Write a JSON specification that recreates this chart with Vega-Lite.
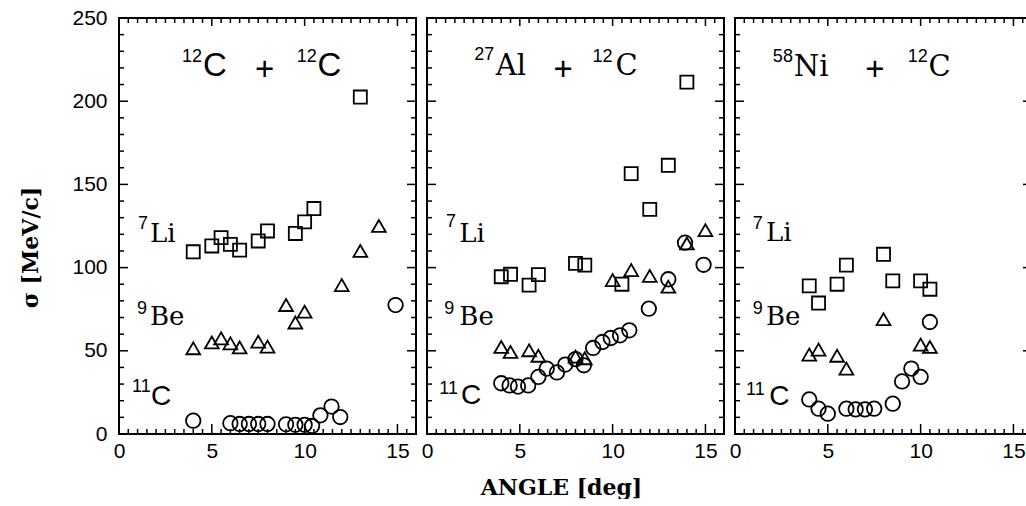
{
  "$schema": "https://vega.github.io/schema/vega-lite/v6.json",
  "background": "white",
  "padding": {"left": 18, "top": 6, "right": 0, "bottom": 0},
  "bounds": "flush",
  "spacing": 11,
  "config": {"view": {"stroke": "black", "strokeWidth": 2}},
  "datasets": {
    "pts": [
      {"panel": "C", "frag": "Li", "angle": 4, "sigma": 109.5},
      {"panel": "C", "frag": "Li", "angle": 5, "sigma": 113},
      {"panel": "C", "frag": "Li", "angle": 5.5, "sigma": 118},
      {"panel": "C", "frag": "Li", "angle": 6, "sigma": 114},
      {"panel": "C", "frag": "Li", "angle": 6.5, "sigma": 110.5},
      {"panel": "C", "frag": "Li", "angle": 7.5, "sigma": 116},
      {"panel": "C", "frag": "Li", "angle": 8, "sigma": 122},
      {"panel": "C", "frag": "Li", "angle": 9.5, "sigma": 120.5},
      {"panel": "C", "frag": "Li", "angle": 10, "sigma": 127.5},
      {"panel": "C", "frag": "Li", "angle": 10.5, "sigma": 135.5},
      {"panel": "C", "frag": "Li", "angle": 13, "sigma": 202.5},
      {"panel": "C", "frag": "Be", "angle": 4, "sigma": 51.5},
      {"panel": "C", "frag": "Be", "angle": 5, "sigma": 55},
      {"panel": "C", "frag": "Be", "angle": 5.5, "sigma": 57.5},
      {"panel": "C", "frag": "Be", "angle": 6, "sigma": 54.5},
      {"panel": "C", "frag": "Be", "angle": 6.5, "sigma": 52},
      {"panel": "C", "frag": "Be", "angle": 7.5, "sigma": 55.5},
      {"panel": "C", "frag": "Be", "angle": 8, "sigma": 52.5},
      {"panel": "C", "frag": "Be", "angle": 9, "sigma": 77.5},
      {"panel": "C", "frag": "Be", "angle": 9.5, "sigma": 67},
      {"panel": "C", "frag": "Be", "angle": 10, "sigma": 73.5},
      {"panel": "C", "frag": "Be", "angle": 12, "sigma": 89.5},
      {"panel": "C", "frag": "Be", "angle": 13, "sigma": 110},
      {"panel": "C", "frag": "Be", "angle": 14, "sigma": 125},
      {"panel": "C", "frag": "C", "angle": 4, "sigma": 8},
      {"panel": "C", "frag": "C", "angle": 6, "sigma": 6.5},
      {"panel": "C", "frag": "C", "angle": 6.5, "sigma": 6},
      {"panel": "C", "frag": "C", "angle": 7, "sigma": 6},
      {"panel": "C", "frag": "C", "angle": 7.5, "sigma": 6},
      {"panel": "C", "frag": "C", "angle": 8, "sigma": 6},
      {"panel": "C", "frag": "C", "angle": 9, "sigma": 5.8},
      {"panel": "C", "frag": "C", "angle": 9.5, "sigma": 5.5},
      {"panel": "C", "frag": "C", "angle": 10, "sigma": 5.5},
      {"panel": "C", "frag": "C", "angle": 10.4, "sigma": 4.8},
      {"panel": "C", "frag": "C", "angle": 10.85, "sigma": 11.2},
      {"panel": "C", "frag": "C", "angle": 11.45, "sigma": 16.5},
      {"panel": "C", "frag": "C", "angle": 11.92, "sigma": 10.2},
      {"panel": "C", "frag": "C", "angle": 14.9, "sigma": 77.5},
      {"panel": "Al", "frag": "Li", "angle": 4, "sigma": 94.5},
      {"panel": "Al", "frag": "Li", "angle": 4.5, "sigma": 96},
      {"panel": "Al", "frag": "Li", "angle": 5.5, "sigma": 89.5},
      {"panel": "Al", "frag": "Li", "angle": 6, "sigma": 95.8},
      {"panel": "Al", "frag": "Li", "angle": 8, "sigma": 102.5},
      {"panel": "Al", "frag": "Li", "angle": 8.5, "sigma": 101.5},
      {"panel": "Al", "frag": "Li", "angle": 10.5, "sigma": 90},
      {"panel": "Al", "frag": "Li", "angle": 11, "sigma": 156.5},
      {"panel": "Al", "frag": "Li", "angle": 12, "sigma": 135},
      {"panel": "Al", "frag": "Li", "angle": 13, "sigma": 161.5},
      {"panel": "Al", "frag": "Li", "angle": 14, "sigma": 211.5},
      {"panel": "Al", "frag": "Be", "angle": 4, "sigma": 52.3},
      {"panel": "Al", "frag": "Be", "angle": 4.5, "sigma": 49.3},
      {"panel": "Al", "frag": "Be", "angle": 5.5, "sigma": 50.3},
      {"panel": "Al", "frag": "Be", "angle": 6, "sigma": 47},
      {"panel": "Al", "frag": "Be", "angle": 8, "sigma": 46.5},
      {"panel": "Al", "frag": "Be", "angle": 8.5, "sigma": 45.5},
      {"panel": "Al", "frag": "Be", "angle": 10, "sigma": 92.5},
      {"panel": "Al", "frag": "Be", "angle": 11, "sigma": 98.5},
      {"panel": "Al", "frag": "Be", "angle": 12, "sigma": 95},
      {"panel": "Al", "frag": "Be", "angle": 13, "sigma": 88.5},
      {"panel": "Al", "frag": "Be", "angle": 14, "sigma": 114.5},
      {"panel": "Al", "frag": "Be", "angle": 15, "sigma": 122.5},
      {"panel": "Al", "frag": "C", "angle": 4, "sigma": 30.5},
      {"panel": "Al", "frag": "C", "angle": 4.45, "sigma": 29.2},
      {"panel": "Al", "frag": "C", "angle": 4.9, "sigma": 28.5},
      {"panel": "Al", "frag": "C", "angle": 5.45, "sigma": 29.2},
      {"panel": "Al", "frag": "C", "angle": 6, "sigma": 34.3},
      {"panel": "Al", "frag": "C", "angle": 6.45, "sigma": 39.3},
      {"panel": "Al", "frag": "C", "angle": 7, "sigma": 37},
      {"panel": "Al", "frag": "C", "angle": 7.45, "sigma": 41.7},
      {"panel": "Al", "frag": "C", "angle": 8, "sigma": 45},
      {"panel": "Al", "frag": "C", "angle": 8.45, "sigma": 41.3},
      {"panel": "Al", "frag": "C", "angle": 8.95, "sigma": 51.7},
      {"panel": "Al", "frag": "C", "angle": 9.45, "sigma": 55.3},
      {"panel": "Al", "frag": "C", "angle": 9.9, "sigma": 57.7},
      {"panel": "Al", "frag": "C", "angle": 10.4, "sigma": 59.3},
      {"panel": "Al", "frag": "C", "angle": 10.9, "sigma": 62.3},
      {"panel": "Al", "frag": "C", "angle": 11.95, "sigma": 75.3},
      {"panel": "Al", "frag": "C", "angle": 13, "sigma": 93},
      {"panel": "Al", "frag": "C", "angle": 13.9, "sigma": 115},
      {"panel": "Al", "frag": "C", "angle": 14.9, "sigma": 101.7},
      {"panel": "Ni", "frag": "Li", "angle": 4, "sigma": 89},
      {"panel": "Ni", "frag": "Li", "angle": 4.5, "sigma": 78.7},
      {"panel": "Ni", "frag": "Li", "angle": 5.5, "sigma": 90},
      {"panel": "Ni", "frag": "Li", "angle": 6, "sigma": 101.5},
      {"panel": "Ni", "frag": "Li", "angle": 8, "sigma": 108},
      {"panel": "Ni", "frag": "Li", "angle": 8.5, "sigma": 92},
      {"panel": "Ni", "frag": "Li", "angle": 10, "sigma": 92},
      {"panel": "Ni", "frag": "Li", "angle": 10.5, "sigma": 87},
      {"panel": "Ni", "frag": "Be", "angle": 4, "sigma": 47.7},
      {"panel": "Ni", "frag": "Be", "angle": 4.5, "sigma": 50.7},
      {"panel": "Ni", "frag": "Be", "angle": 5.5, "sigma": 47},
      {"panel": "Ni", "frag": "Be", "angle": 6, "sigma": 39.3},
      {"panel": "Ni", "frag": "Be", "angle": 8, "sigma": 69},
      {"panel": "Ni", "frag": "Be", "angle": 10, "sigma": 53.7},
      {"panel": "Ni", "frag": "Be", "angle": 10.5, "sigma": 52.3},
      {"panel": "Ni", "frag": "C", "angle": 4, "sigma": 20.8},
      {"panel": "Ni", "frag": "C", "angle": 4.5, "sigma": 15.2},
      {"panel": "Ni", "frag": "C", "angle": 5, "sigma": 12.2},
      {"panel": "Ni", "frag": "C", "angle": 6, "sigma": 15.2},
      {"panel": "Ni", "frag": "C", "angle": 6.5, "sigma": 14.8},
      {"panel": "Ni", "frag": "C", "angle": 7, "sigma": 14.8},
      {"panel": "Ni", "frag": "C", "angle": 7.5, "sigma": 15.2},
      {"panel": "Ni", "frag": "C", "angle": 8.5, "sigma": 18.2},
      {"panel": "Ni", "frag": "C", "angle": 9, "sigma": 31.6},
      {"panel": "Ni", "frag": "C", "angle": 9.5, "sigma": 39.3},
      {"panel": "Ni", "frag": "C", "angle": 10, "sigma": 34.3},
      {"panel": "Ni", "frag": "C", "angle": 10.5, "sigma": 67.3}
    ],
    "ticks": [
      {"ax": "x", "v": 0.5, "kind": "minor"}, {"ax": "x", "v": 1, "kind": "minor"}, {"ax": "x", "v": 1.5, "kind": "minor"}, {"ax": "x", "v": 2, "kind": "minor"},
      {"ax": "x", "v": 2.5, "kind": "minor"}, {"ax": "x", "v": 3, "kind": "minor"}, {"ax": "x", "v": 3.5, "kind": "minor"}, {"ax": "x", "v": 4, "kind": "minor"},
      {"ax": "x", "v": 4.5, "kind": "minor"}, {"ax": "x", "v": 5, "kind": "major"}, {"ax": "x", "v": 5.5, "kind": "minor"}, {"ax": "x", "v": 6, "kind": "minor"},
      {"ax": "x", "v": 6.5, "kind": "minor"}, {"ax": "x", "v": 7, "kind": "minor"}, {"ax": "x", "v": 7.5, "kind": "minor"}, {"ax": "x", "v": 8, "kind": "minor"},
      {"ax": "x", "v": 8.5, "kind": "minor"}, {"ax": "x", "v": 9, "kind": "minor"}, {"ax": "x", "v": 9.5, "kind": "minor"}, {"ax": "x", "v": 10, "kind": "major"},
      {"ax": "x", "v": 10.5, "kind": "minor"}, {"ax": "x", "v": 11, "kind": "minor"}, {"ax": "x", "v": 11.5, "kind": "minor"}, {"ax": "x", "v": 12, "kind": "minor"},
      {"ax": "x", "v": 12.5, "kind": "minor"}, {"ax": "x", "v": 13, "kind": "minor"}, {"ax": "x", "v": 13.5, "kind": "minor"}, {"ax": "x", "v": 14, "kind": "minor"},
      {"ax": "x", "v": 14.5, "kind": "minor"}, {"ax": "x", "v": 15, "kind": "major"}, {"ax": "x", "v": 15.5, "kind": "minor"},
      {"ax": "y", "v": 10, "kind": "minor"}, {"ax": "y", "v": 20, "kind": "minor"}, {"ax": "y", "v": 30, "kind": "minor"}, {"ax": "y", "v": 40, "kind": "minor"},
      {"ax": "y", "v": 50, "kind": "major"}, {"ax": "y", "v": 60, "kind": "minor"}, {"ax": "y", "v": 70, "kind": "minor"}, {"ax": "y", "v": 80, "kind": "minor"},
      {"ax": "y", "v": 90, "kind": "minor"}, {"ax": "y", "v": 100, "kind": "major"}, {"ax": "y", "v": 110, "kind": "minor"}, {"ax": "y", "v": 120, "kind": "minor"},
      {"ax": "y", "v": 130, "kind": "minor"}, {"ax": "y", "v": 140, "kind": "minor"}, {"ax": "y", "v": 150, "kind": "major"}, {"ax": "y", "v": 160, "kind": "minor"},
      {"ax": "y", "v": 170, "kind": "minor"}, {"ax": "y", "v": 180, "kind": "minor"}, {"ax": "y", "v": 190, "kind": "minor"}, {"ax": "y", "v": 200, "kind": "major"},
      {"ax": "y", "v": 210, "kind": "minor"}, {"ax": "y", "v": 220, "kind": "minor"}, {"ax": "y", "v": 230, "kind": "minor"}, {"ax": "y", "v": 240, "kind": "minor"}
    ],
    "lbl": [
      {"panel": "C", "role": "tsans", "x": 4.52, "y": 215.1, "text": "C"},
      {"panel": "C", "role": "tsans", "x": 10.7, "y": 215.1, "text": "C"},
      {"panel": "C", "role": "plus", "x": 7.85, "y": 213, "text": "+"},
      {"panel": "C", "role": "tsup", "x": 3.39, "y": 223.6, "text": "12"},
      {"panel": "C", "role": "tsup", "x": 9.57, "y": 223.6, "text": "12"},
      {"panel": "C", "role": "fsup", "x": 1.02, "y": 123.2, "text": "7"},
      {"panel": "C", "role": "fserif", "x": 1.67, "y": 115.4, "text": "Li"},
      {"panel": "C", "role": "fsup", "x": 0.97, "y": 72.1, "text": "9"},
      {"panel": "C", "role": "fserif", "x": 1.67, "y": 65.5, "text": "Be"},
      {"panel": "C", "role": "fsup", "x": 0.7, "y": 25.2, "text": "11"},
      {"panel": "C", "role": "fsans", "x": 1.72, "y": 17.4, "text": "C"},
      {"panel": "Al", "role": "tserif", "x": 3.71, "y": 215.7, "text": "Al"},
      {"panel": "Al", "role": "tserif", "x": 10.16, "y": 215.7, "text": "C"},
      {"panel": "Al", "role": "plus", "x": 7.34, "y": 213, "text": "+"},
      {"panel": "Al", "role": "tsup", "x": 2.54, "y": 224.8, "text": "27"},
      {"panel": "Al", "role": "tsup", "x": 8.91, "y": 223.6, "text": "12"},
      {"panel": "Al", "role": "fsup", "x": 1.02, "y": 124.4, "text": "7"},
      {"panel": "Al", "role": "fserif", "x": 1.74, "y": 115.4, "text": "Li"},
      {"panel": "Al", "role": "fsup", "x": 0.93, "y": 72.3, "text": "9"},
      {"panel": "Al", "role": "fserif", "x": 1.74, "y": 65.3, "text": "Be"},
      {"panel": "Al", "role": "fsup", "x": 0.66, "y": 24.2, "text": "11"},
      {"panel": "Al", "role": "fsans", "x": 1.83, "y": 18.2, "text": "C"},
      {"panel": "Ni", "role": "tserif", "x": 3.17, "y": 215.1, "text": "Ni"},
      {"panel": "Ni", "role": "tserif", "x": 10.43, "y": 215.1, "text": "C"},
      {"panel": "Ni", "role": "plus", "x": 7.53, "y": 213, "text": "+"},
      {"panel": "Ni", "role": "tsup", "x": 2.04, "y": 223.6, "text": "58"},
      {"panel": "Ni", "role": "tsup", "x": 9.3, "y": 223.6, "text": "12"},
      {"panel": "Ni", "role": "fsup", "x": 0.95, "y": 123.4, "text": "7"},
      {"panel": "Ni", "role": "fserif", "x": 1.67, "y": 115.8, "text": "Li"},
      {"panel": "Ni", "role": "fsup", "x": 0.95, "y": 72.3, "text": "9"},
      {"panel": "Ni", "role": "fserif", "x": 1.67, "y": 65.3, "text": "Be"},
      {"panel": "Ni", "role": "fsup", "x": 0.59, "y": 23.3, "text": "11"},
      {"panel": "Ni", "role": "fsans", "x": 1.84, "y": 17.6, "text": "C"}
    ]
  },
  "hconcat": [
    {
      "width": 297, "height": 416,
      "resolve": {"axis": {"x": "independent", "y": "independent"}, "scale": {"size": "independent"}},
      "layer": [
        {
          "data": {"name": "pts"},
          "transform": [{"filter": "datum.panel === 'C'"}],
          "mark": {"type": "point", "filled": false, "stroke": "black", "strokeWidth": 1.8, "opacity": 1},
          "encoding": {
            "x": {"field": "angle", "type": "quantitative", "scale": {"domain": [0, 16], "nice": false, "zero": false},
              "axis": {"orient": "bottom", "title": null, "values": [0, 5, 10, 15], "format": "d", "ticks": true, "tickSize": 0, "tickWidth": 0, "labelPadding": 6, "domain": false, "grid": false, "labelFont": "Liberation Sans", "labelFontSize": 21, "labelColor": "black", "labelFlush": false, "labelOverlap": false, "labelBound": false}},
            "y": {"field": "sigma", "type": "quantitative", "scale": {"domain": [0, 250], "nice": false},
              "axis": {"orient": "left", "title": "σ [MeV/c]", "titleX": -89, "titleY": 229, "titleAngle": -90, "titleAlign": "center", "titleBaseline": "middle", "titleFont": "DejaVu Serif", "titleFontWeight": "bold", "titleFontSize": 22, "titleColor": "black",
                "values": [0, 50, 100, 150, 200, 250], "format": "d", "ticks": true, "tickSize": 0, "tickWidth": 0, "labelPadding": 12, "domain": false, "grid": false, "labelFont": "Liberation Sans", "labelFontSize": 21, "labelColor": "black", "labelFlush": false, "labelOverlap": false, "labelBound": false}},
            "shape": {"field": "frag", "type": "nominal", "scale": {"domain": ["Li", "Be", "C"], "range": ["square", "triangle-up", "circle"]}, "legend": null},
            "size": {"field": "frag", "type": "nominal", "scale": {"domain": ["Li", "Be", "C"], "range": [170, 210, 260]}, "legend": null}
          }
        },
        {
          "data": {"name": "ticks"},
          "transform": [{"filter": "datum.ax === 'x'"}],
          "mark": {"type": "tick", "orient": "vertical", "clip": true, "color": "black", "thickness": 1.5, "opacity": 1},
          "encoding": {
            "x": {"field": "v", "type": "quantitative", "axis": null},
            "y": {"datum": 0, "type": "quantitative", "axis": null},
            "size": {"field": "kind", "type": "nominal", "scale": {"domain": ["major", "minor"], "range": [20, 10]}, "legend": null}
          }
        },
        {
          "data": {"name": "ticks"},
          "transform": [{"filter": "datum.ax === 'x'"}],
          "mark": {"type": "tick", "orient": "vertical", "clip": true, "color": "black", "thickness": 1.5, "opacity": 1},
          "encoding": {
            "x": {"field": "v", "type": "quantitative", "axis": null},
            "y": {"datum": 250, "type": "quantitative", "axis": null},
            "size": {"field": "kind", "type": "nominal", "scale": {"domain": ["major", "minor"], "range": [16, 10]}, "legend": null}
          }
        },
        {
          "data": {"name": "ticks"},
          "transform": [{"filter": "datum.ax === 'y'"}],
          "mark": {"type": "tick", "orient": "horizontal", "clip": true, "color": "black", "thickness": 1.5, "opacity": 1},
          "encoding": {
            "y": {"field": "v", "type": "quantitative", "axis": null},
            "x": {"datum": 0, "type": "quantitative", "axis": null},
            "size": {"field": "kind", "type": "nominal", "scale": {"domain": ["major", "minor"], "range": [18, 10]}, "legend": null}
          }
        },
        {
          "data": {"name": "ticks"},
          "transform": [{"filter": "datum.ax === 'y'"}],
          "mark": {"type": "tick", "orient": "horizontal", "clip": true, "color": "black", "thickness": 1.5, "opacity": 1},
          "encoding": {
            "y": {"field": "v", "type": "quantitative", "axis": null},
            "x": {"datum": 16, "type": "quantitative", "axis": null},
            "size": {"field": "kind", "type": "nominal", "scale": {"domain": ["major", "minor"], "range": [18, 10]}, "legend": null}
          }
        },
        {
          "data": {"name": "lbl"},
          "transform": [{"filter": "datum.panel === 'C' && datum.role === 'tsup'"}],
          "mark": {"type": "text", "font": "Liberation Sans", "fontSize": 18, "align": "left", "baseline": "alphabetic", "color": "black"},
          "encoding": {"x": {"field": "x", "type": "quantitative", "axis": null}, "y": {"field": "y", "type": "quantitative", "axis": null}, "text": {"field": "text"}}
        },
        {
          "data": {"name": "lbl"},
          "transform": [{"filter": "datum.panel === 'C' && datum.role === 'fsup'"}],
          "mark": {"type": "text", "font": "Liberation Sans", "fontSize": 18, "align": "left", "baseline": "alphabetic", "color": "black"},
          "encoding": {"x": {"field": "x", "type": "quantitative", "axis": null}, "y": {"field": "y", "type": "quantitative", "axis": null}, "text": {"field": "text"}}
        },
        {
          "data": {"name": "lbl"},
          "transform": [{"filter": "datum.panel === 'C' && datum.role === 'tsans'"}],
          "mark": {"type": "text", "font": "Liberation Sans", "fontSize": 33, "align": "left", "baseline": "alphabetic", "color": "black"},
          "encoding": {"x": {"field": "x", "type": "quantitative", "axis": null}, "y": {"field": "y", "type": "quantitative", "axis": null}, "text": {"field": "text"}}
        },
        {
          "data": {"name": "lbl"},
          "transform": [{"filter": "datum.panel === 'C' && datum.role === 'plus'"}],
          "mark": {"type": "text", "font": "Liberation Sans", "fontSize": 33, "align": "center", "baseline": "alphabetic", "color": "black"},
          "encoding": {"x": {"field": "x", "type": "quantitative", "axis": null}, "y": {"field": "y", "type": "quantitative", "axis": null}, "text": {"field": "text"}}
        },
        {
          "data": {"name": "lbl"},
          "transform": [{"filter": "datum.panel === 'C' && datum.role === 'fserif'"}],
          "mark": {"type": "text", "font": "DejaVu Serif", "fontSize": 26, "align": "left", "baseline": "alphabetic", "color": "black"},
          "encoding": {"x": {"field": "x", "type": "quantitative", "axis": null}, "y": {"field": "y", "type": "quantitative", "axis": null}, "text": {"field": "text"}}
        },
        {
          "data": {"name": "lbl"},
          "transform": [{"filter": "datum.panel === 'C' && datum.role === 'fsans'"}],
          "mark": {"type": "text", "font": "Liberation Sans", "fontSize": 28, "align": "left", "baseline": "alphabetic", "color": "black"},
          "encoding": {"x": {"field": "x", "type": "quantitative", "axis": null}, "y": {"field": "y", "type": "quantitative", "axis": null}, "text": {"field": "text"}}
        }
      ]
    },
    {
      "width": 297, "height": 416,
      "resolve": {"axis": {"x": "independent", "y": "independent"}, "scale": {"size": "independent"}},
      "layer": [
        {
          "data": {"name": "pts"},
          "transform": [{"filter": "datum.panel === 'Al'"}],
          "mark": {"type": "point", "filled": false, "stroke": "black", "strokeWidth": 1.8, "opacity": 1},
          "encoding": {
            "x": {"field": "angle", "type": "quantitative", "scale": {"domain": [0, 16], "nice": false, "zero": false},
              "axis": {"orient": "bottom", "title": "ANGLE [deg]", "titleX": 134, "titleY": 60, "titleAlign": "center", "titleBaseline": "alphabetic", "titleFont": "DejaVu Serif", "titleFontWeight": "bold", "titleFontSize": 22, "titleColor": "black",
                "values": [0, 5, 10, 15], "format": "d", "ticks": true, "tickSize": 0, "tickWidth": 0, "labelPadding": 6, "domain": false, "grid": false, "labelFont": "Liberation Sans", "labelFontSize": 21, "labelColor": "black", "labelFlush": false, "labelOverlap": false, "labelBound": false}},
            "y": {"field": "sigma", "type": "quantitative", "scale": {"domain": [0, 250], "nice": false}, "axis": null},
            "shape": {"field": "frag", "type": "nominal", "scale": {"domain": ["Li", "Be", "C"], "range": ["square", "triangle-up", "circle"]}, "legend": null},
            "size": {"field": "frag", "type": "nominal", "scale": {"domain": ["Li", "Be", "C"], "range": [170, 210, 260]}, "legend": null}
          }
        },
        {
          "data": {"name": "ticks"},
          "transform": [{"filter": "datum.ax === 'x'"}],
          "mark": {"type": "tick", "orient": "vertical", "clip": true, "color": "black", "thickness": 1.5, "opacity": 1},
          "encoding": {
            "x": {"field": "v", "type": "quantitative", "axis": null},
            "y": {"datum": 0, "type": "quantitative", "axis": null},
            "size": {"field": "kind", "type": "nominal", "scale": {"domain": ["major", "minor"], "range": [20, 10]}, "legend": null}
          }
        },
        {
          "data": {"name": "ticks"},
          "transform": [{"filter": "datum.ax === 'x'"}],
          "mark": {"type": "tick", "orient": "vertical", "clip": true, "color": "black", "thickness": 1.5, "opacity": 1},
          "encoding": {
            "x": {"field": "v", "type": "quantitative", "axis": null},
            "y": {"datum": 250, "type": "quantitative", "axis": null},
            "size": {"field": "kind", "type": "nominal", "scale": {"domain": ["major", "minor"], "range": [16, 10]}, "legend": null}
          }
        },
        {
          "data": {"name": "ticks"},
          "transform": [{"filter": "datum.ax === 'y'"}],
          "mark": {"type": "tick", "orient": "horizontal", "clip": true, "color": "black", "thickness": 1.5, "opacity": 1},
          "encoding": {
            "y": {"field": "v", "type": "quantitative", "axis": null},
            "x": {"datum": 0, "type": "quantitative", "axis": null},
            "size": {"field": "kind", "type": "nominal", "scale": {"domain": ["major", "minor"], "range": [18, 10]}, "legend": null}
          }
        },
        {
          "data": {"name": "ticks"},
          "transform": [{"filter": "datum.ax === 'y'"}],
          "mark": {"type": "tick", "orient": "horizontal", "clip": true, "color": "black", "thickness": 1.5, "opacity": 1},
          "encoding": {
            "y": {"field": "v", "type": "quantitative", "axis": null},
            "x": {"datum": 16, "type": "quantitative", "axis": null},
            "size": {"field": "kind", "type": "nominal", "scale": {"domain": ["major", "minor"], "range": [18, 10]}, "legend": null}
          }
        },
        {
          "data": {"name": "lbl"},
          "transform": [{"filter": "datum.panel === 'Al' && datum.role === 'tsup'"}],
          "mark": {"type": "text", "font": "Liberation Sans", "fontSize": 18, "align": "left", "baseline": "alphabetic", "color": "black"},
          "encoding": {"x": {"field": "x", "type": "quantitative", "axis": null}, "y": {"field": "y", "type": "quantitative", "axis": null}, "text": {"field": "text"}}
        },
        {
          "data": {"name": "lbl"},
          "transform": [{"filter": "datum.panel === 'Al' && datum.role === 'fsup'"}],
          "mark": {"type": "text", "font": "Liberation Sans", "fontSize": 18, "align": "left", "baseline": "alphabetic", "color": "black"},
          "encoding": {"x": {"field": "x", "type": "quantitative", "axis": null}, "y": {"field": "y", "type": "quantitative", "axis": null}, "text": {"field": "text"}}
        },
        {
          "data": {"name": "lbl"},
          "transform": [{"filter": "datum.panel === 'Al' && datum.role === 'tserif'"}],
          "mark": {"type": "text", "font": "DejaVu Serif", "fontSize": 29, "align": "left", "baseline": "alphabetic", "color": "black"},
          "encoding": {"x": {"field": "x", "type": "quantitative", "axis": null}, "y": {"field": "y", "type": "quantitative", "axis": null}, "text": {"field": "text"}}
        },
        {
          "data": {"name": "lbl"},
          "transform": [{"filter": "datum.panel === 'Al' && datum.role === 'plus'"}],
          "mark": {"type": "text", "font": "Liberation Sans", "fontSize": 33, "align": "center", "baseline": "alphabetic", "color": "black"},
          "encoding": {"x": {"field": "x", "type": "quantitative", "axis": null}, "y": {"field": "y", "type": "quantitative", "axis": null}, "text": {"field": "text"}}
        },
        {
          "data": {"name": "lbl"},
          "transform": [{"filter": "datum.panel === 'Al' && datum.role === 'fserif'"}],
          "mark": {"type": "text", "font": "DejaVu Serif", "fontSize": 26, "align": "left", "baseline": "alphabetic", "color": "black"},
          "encoding": {"x": {"field": "x", "type": "quantitative", "axis": null}, "y": {"field": "y", "type": "quantitative", "axis": null}, "text": {"field": "text"}}
        },
        {
          "data": {"name": "lbl"},
          "transform": [{"filter": "datum.panel === 'Al' && datum.role === 'fsans'"}],
          "mark": {"type": "text", "font": "Liberation Sans", "fontSize": 28, "align": "left", "baseline": "alphabetic", "color": "black"},
          "encoding": {"x": {"field": "x", "type": "quantitative", "axis": null}, "y": {"field": "y", "type": "quantitative", "axis": null}, "text": {"field": "text"}}
        }
      ]
    },
    {
      "width": 297, "height": 416,
      "resolve": {"axis": {"x": "independent", "y": "independent"}, "scale": {"size": "independent"}},
      "layer": [
        {
          "data": {"name": "pts"},
          "transform": [{"filter": "datum.panel === 'Ni'"}],
          "mark": {"type": "point", "filled": false, "stroke": "black", "strokeWidth": 1.8, "opacity": 1},
          "encoding": {
            "x": {"field": "angle", "type": "quantitative", "scale": {"domain": [0, 16], "nice": false, "zero": false},
              "axis": {"orient": "bottom", "title": null, "values": [0, 5, 10, 15], "format": "d", "ticks": true, "tickSize": 0, "tickWidth": 0, "labelPadding": 6, "domain": false, "grid": false, "labelFont": "Liberation Sans", "labelFontSize": 21, "labelColor": "black", "labelFlush": false, "labelOverlap": false, "labelBound": false}},
            "y": {"field": "sigma", "type": "quantitative", "scale": {"domain": [0, 250], "nice": false}, "axis": null},
            "shape": {"field": "frag", "type": "nominal", "scale": {"domain": ["Li", "Be", "C"], "range": ["square", "triangle-up", "circle"]}, "legend": null},
            "size": {"field": "frag", "type": "nominal", "scale": {"domain": ["Li", "Be", "C"], "range": [170, 210, 260]}, "legend": null}
          }
        },
        {
          "data": {"name": "ticks"},
          "transform": [{"filter": "datum.ax === 'x'"}],
          "mark": {"type": "tick", "orient": "vertical", "clip": true, "color": "black", "thickness": 1.5, "opacity": 1},
          "encoding": {
            "x": {"field": "v", "type": "quantitative", "axis": null},
            "y": {"datum": 0, "type": "quantitative", "axis": null},
            "size": {"field": "kind", "type": "nominal", "scale": {"domain": ["major", "minor"], "range": [20, 10]}, "legend": null}
          }
        },
        {
          "data": {"name": "ticks"},
          "transform": [{"filter": "datum.ax === 'x'"}],
          "mark": {"type": "tick", "orient": "vertical", "clip": true, "color": "black", "thickness": 1.5, "opacity": 1},
          "encoding": {
            "x": {"field": "v", "type": "quantitative", "axis": null},
            "y": {"datum": 250, "type": "quantitative", "axis": null},
            "size": {"field": "kind", "type": "nominal", "scale": {"domain": ["major", "minor"], "range": [16, 10]}, "legend": null}
          }
        },
        {
          "data": {"name": "ticks"},
          "transform": [{"filter": "datum.ax === 'y'"}],
          "mark": {"type": "tick", "orient": "horizontal", "clip": true, "color": "black", "thickness": 1.5, "opacity": 1},
          "encoding": {
            "y": {"field": "v", "type": "quantitative", "axis": null},
            "x": {"datum": 0, "type": "quantitative", "axis": null},
            "size": {"field": "kind", "type": "nominal", "scale": {"domain": ["major", "minor"], "range": [18, 10]}, "legend": null}
          }
        },
        {
          "data": {"name": "ticks"},
          "transform": [{"filter": "datum.ax === 'y'"}],
          "mark": {"type": "tick", "orient": "horizontal", "clip": true, "color": "black", "thickness": 1.5, "opacity": 1},
          "encoding": {
            "y": {"field": "v", "type": "quantitative", "axis": null},
            "x": {"datum": 16, "type": "quantitative", "axis": null},
            "size": {"field": "kind", "type": "nominal", "scale": {"domain": ["major", "minor"], "range": [18, 10]}, "legend": null}
          }
        },
        {
          "data": {"name": "lbl"},
          "transform": [{"filter": "datum.panel === 'Ni' && datum.role === 'tsup'"}],
          "mark": {"type": "text", "font": "Liberation Sans", "fontSize": 18, "align": "left", "baseline": "alphabetic", "color": "black"},
          "encoding": {"x": {"field": "x", "type": "quantitative", "axis": null}, "y": {"field": "y", "type": "quantitative", "axis": null}, "text": {"field": "text"}}
        },
        {
          "data": {"name": "lbl"},
          "transform": [{"filter": "datum.panel === 'Ni' && datum.role === 'fsup'"}],
          "mark": {"type": "text", "font": "Liberation Sans", "fontSize": 18, "align": "left", "baseline": "alphabetic", "color": "black"},
          "encoding": {"x": {"field": "x", "type": "quantitative", "axis": null}, "y": {"field": "y", "type": "quantitative", "axis": null}, "text": {"field": "text"}}
        },
        {
          "data": {"name": "lbl"},
          "transform": [{"filter": "datum.panel === 'Ni' && datum.role === 'tserif'"}],
          "mark": {"type": "text", "font": "DejaVu Serif", "fontSize": 29, "align": "left", "baseline": "alphabetic", "color": "black"},
          "encoding": {"x": {"field": "x", "type": "quantitative", "axis": null}, "y": {"field": "y", "type": "quantitative", "axis": null}, "text": {"field": "text"}}
        },
        {
          "data": {"name": "lbl"},
          "transform": [{"filter": "datum.panel === 'Ni' && datum.role === 'plus'"}],
          "mark": {"type": "text", "font": "Liberation Sans", "fontSize": 33, "align": "center", "baseline": "alphabetic", "color": "black"},
          "encoding": {"x": {"field": "x", "type": "quantitative", "axis": null}, "y": {"field": "y", "type": "quantitative", "axis": null}, "text": {"field": "text"}}
        },
        {
          "data": {"name": "lbl"},
          "transform": [{"filter": "datum.panel === 'Ni' && datum.role === 'fserif'"}],
          "mark": {"type": "text", "font": "DejaVu Serif", "fontSize": 26, "align": "left", "baseline": "alphabetic", "color": "black"},
          "encoding": {"x": {"field": "x", "type": "quantitative", "axis": null}, "y": {"field": "y", "type": "quantitative", "axis": null}, "text": {"field": "text"}}
        },
        {
          "data": {"name": "lbl"},
          "transform": [{"filter": "datum.panel === 'Ni' && datum.role === 'fsans'"}],
          "mark": {"type": "text", "font": "Liberation Sans", "fontSize": 28, "align": "left", "baseline": "alphabetic", "color": "black"},
          "encoding": {"x": {"field": "x", "type": "quantitative", "axis": null}, "y": {"field": "y", "type": "quantitative", "axis": null}, "text": {"field": "text"}}
        }
      ]
    }
  ]
}
